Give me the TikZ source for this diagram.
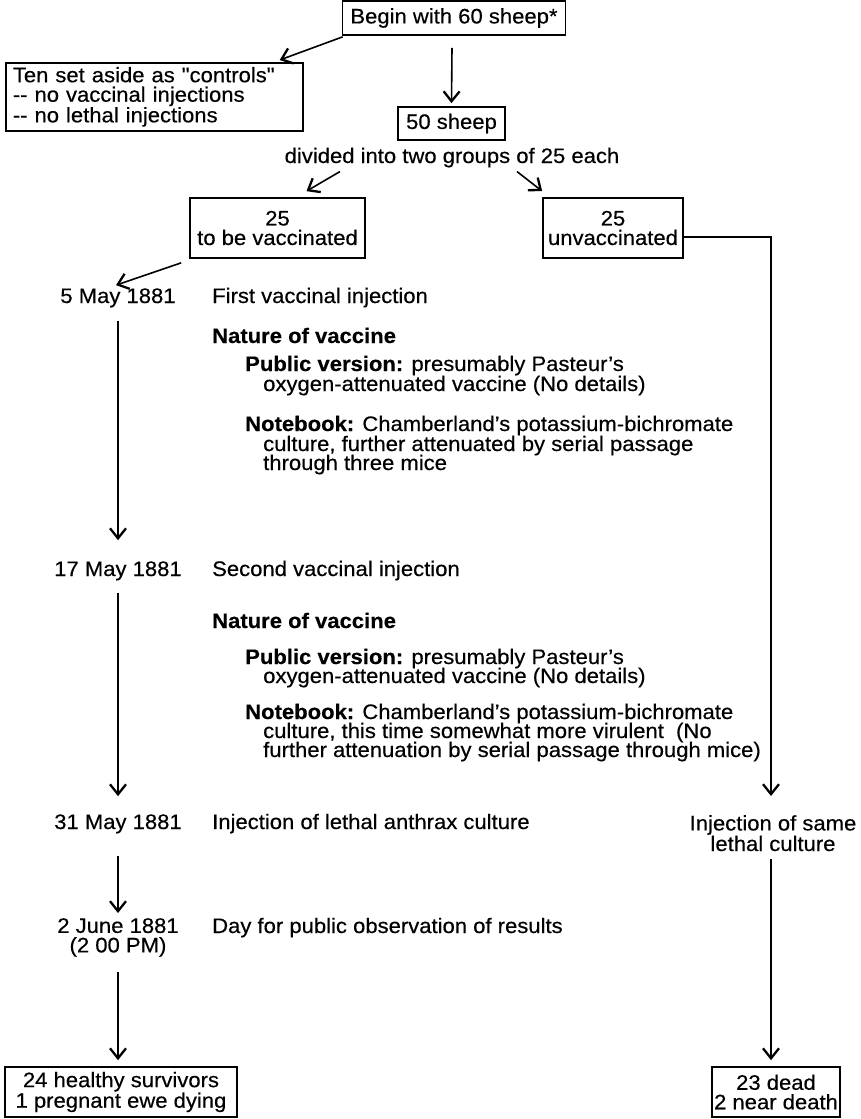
\documentclass[tikz,border=0pt]{standalone}
\usepackage{fontspec}
\setmainfont{Liberation Sans}[Ligatures=TeXOff, FakeStretch=1.05, FakeBold=0.4]
\usetikzlibrary{arrows.meta,calc}
\begin{document}
\begin{tikzpicture}[x=1pt,y=-1pt,
  font=\fontsize{21}{19.5}\selectfont,
  box/.style={draw, line width=1.7pt, inner sep=0pt, align=center},
  txt/.style={inner sep=0pt, anchor=base west, align=left},
  datetxt/.style={inner sep=0pt, anchor=base},
  arr/.style={line width=1.6pt, -{Straight Barb[length=10pt,width=16pt,line width=2.3pt]}}]
\useasboundingbox (0,0) rectangle (860,1119);

% boxes
\node[box, minimum width=223pt, minimum height=34pt] (begin) at (454,18) {Begin with 60 sheep*};
\node[box, anchor=north west, align=left, inner xsep=7pt, text width=283pt, minimum height=68pt] (ten) at (5,62)
  {Ten set aside as "controls"\\-- no vaccinal injections\\-- no lethal injections};
\node[box, minimum width=107pt, minimum height=33pt] (fifty) at (451.5,123.5) {50 sheep};
\node[inner sep=0pt, anchor=base] (div) at (452,163) {divided into two groups of 25 each};
\node[box, minimum width=175pt, minimum height=60pt] (vacc) at (277.5,228) {25\\to be vaccinated};
\node[box, minimum width=140pt, minimum height=60pt] (unvacc) at (613,228) {25\\unvaccinated};

% dates
\node[datetxt] (d1) at (118,303) {5 May 1881};
\node[datetxt] (d2) at (118,576) {17 May 1881};
\node[datetxt] (d3) at (118,829) {31 May 1881};
\node[inner sep=0pt, anchor=north, align=center] (d4) at (118,918) {2 June 1881\\(2 00 PM)};

% first injection text
\node[txt] (t1) at (212,303) {First vaccinal injection};
\node[txt] (n1) at (212,343) {\bfseries Nature of vaccine};
\node[txt] (p1a) at (245,371) {\textbf{Public version:} presumably Pasteur’s};
\node[txt] (p1b) at (263,391) {oxygen-attenuated vaccine (No details)};
\node[txt] (k1a) at (245,431) {\textbf{Notebook:} Chamberland’s potassium-bichromate};
\node[txt] (k1b) at (263,451) {culture, further attenuated by serial passage};
\node[txt] (k1c) at (263,470) {through three mice};

% second injection text
\node[txt] (t2) at (212,576) {Second vaccinal injection};
\node[txt] (n2) at (212,628) {\bfseries Nature of vaccine};
\node[txt] (p2a) at (245,664) {\textbf{Public version:} presumably Pasteur’s};
\node[txt] (p2b) at (263,683) {oxygen-attenuated vaccine (No details)};
\node[txt] (k2a) at (245,719) {\textbf{Notebook:} Chamberland’s potassium-bichromate};
\node[txt] (k2b) at (263,738) {culture, this time somewhat more virulent\ \ (No};
\node[txt] (k2c) at (263,757) {further attenuation by serial passage through mice)};

\node[txt] (t3) at (212,829) {Injection of lethal anthrax culture};
\node[inner sep=0pt, anchor=north, align=center] (inj2) at (773,815) {Injection of same\\lethal culture};
\node[txt] (t4) at (212,933) {Day for public observation of results};

% result boxes
\node[box, minimum width=232pt, minimum height=50pt] (res1) at (121,1092) {24 healthy survivors\\1 pregnant ewe dying};
\node[box, minimum width=128pt, minimum height=50pt] (res2) at (776,1092) {23 dead\\2 near death};

% connectors
\draw[arr] ($(begin.south west)+(1,1)$) -- ($(ten.north east)+(-24,-2)$);
\draw[arr] ($(begin.south)+(-2,12)$) -- ($(fifty.north)+(0,-3)$);
\draw[arr] ($(div.south)+(-112,4)$) -- ($(vacc.north)+(29,-6)$);
\draw[arr] ($(div.south)+(65,4)$) -- ($(unvacc.north west)+(0,-6)$);
\draw[arr] ($(unvacc.east)+(0,9)$) -| ($(inj2.north)+(-2,-19)$);
\draw[arr] ($(vacc.south west)+(-8,4)$) -- ($(d1.north)+(-2,-3)$);
\draw[arr] ($(d1.south)+(0,13)$) -- ($(d2.north)+(0,-21)$);
\draw[arr] ($(d2.south)+(0,12)$) -- ($(d3.north)+(0,-18)$);
\draw[arr] ($(d3.south)+(0,22)$) -- ($(d4.north)+(0,-5)$);
\draw[arr] ($(d4.south)+(0,15)$) -- ($(d4.south |- res1.north)+(0,-6)$);
\draw[arr] ($(inj2.south)+(-2,8)$) -- ($(inj2.south |- res2.north)+(-2,-6)$);
\end{tikzpicture}
\end{document}
